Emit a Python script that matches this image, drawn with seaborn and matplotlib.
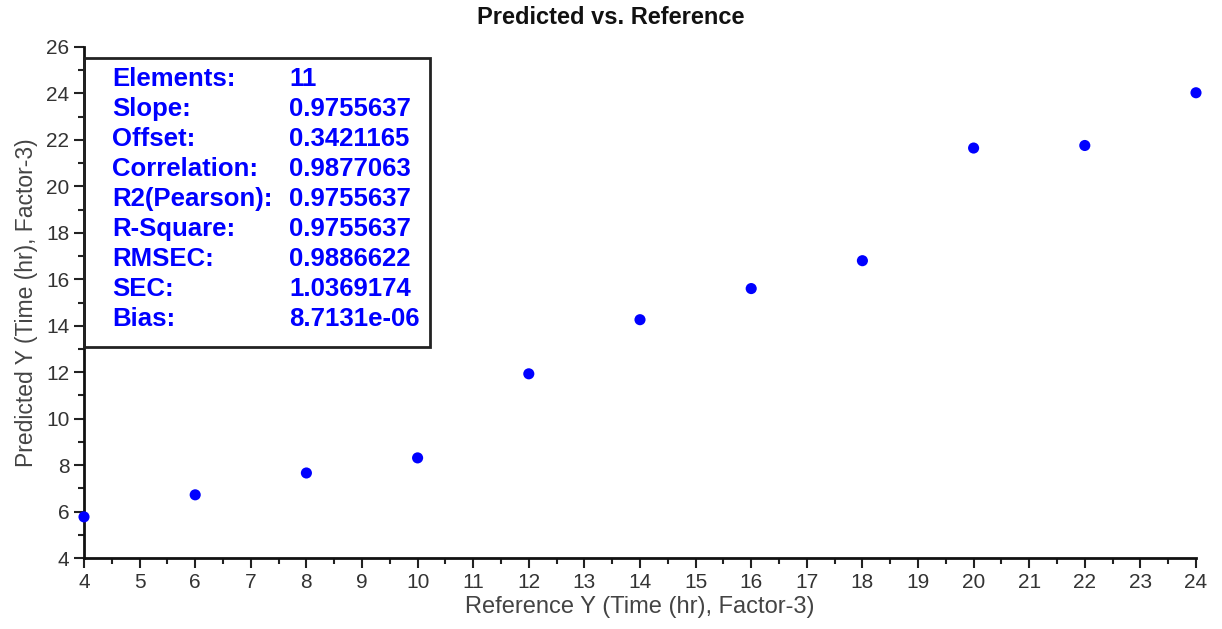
import matplotlib
matplotlib.use("Agg")
import matplotlib.pyplot as plt
import seaborn as sns
import pandas as pd
from matplotlib.patches import Rectangle
from matplotlib.ticker import MultipleLocator

reference = [4, 6, 8, 10, 12, 14, 16, 18, 20, 22, 24]
predicted = [5.77, 6.72, 7.66, 8.31, 11.93, 14.26, 15.6, 16.8, 21.65, 21.76, 24.03]

stat_labels = ["Elements:", "Slope:", "Offset:", "Correlation:", "R2(Pearson):",
               "R-Square:", "RMSEC:", "SEC:", "Bias:"]
stat_values = ["11", "0.9755637", "0.3421165", "0.9877063", "0.9755637",
               "0.9755637", "0.9886622", "1.0369174", "8.7131e-06"]

sns.set_theme(style="ticks")
plt.rcParams['font.family'] = ['Liberation Sans', 'DejaVu Sans']

df = pd.DataFrame({"ref": reference, "pred": predicted})

fig = plt.figure(figsize=(12.22, 6.29), dpi=100)
ax = fig.add_axes([84/1222, 1-558/629, 1112/1222, 511/629])
sns.scatterplot(data=df, x="ref", y="pred", ax=ax, color="#0000ff",
                s=64, edgecolor="none", clip_on=False, zorder=5)

ax.set_xlim(4, 24)
ax.set_ylim(4, 26)
ax.xaxis.set_major_locator(MultipleLocator(1))
ax.xaxis.set_minor_locator(MultipleLocator(0.5))
ax.yaxis.set_major_locator(MultipleLocator(2))
ax.yaxis.set_minor_locator(MultipleLocator(1))
ax.tick_params(which="major", length=7, width=1.5, color="#222222",
               labelsize=15, labelcolor="#333333", direction="out")
ax.tick_params(axis="x", which="major", pad=4)
ax.tick_params(which="minor", length=4, width=1.5, color="#222222", direction="out")
for s in ["top", "right"]:
    ax.spines[s].set_visible(False)
for s in ["left", "bottom"]:
    ax.spines[s].set_linewidth(2)
    ax.spines[s].set_color("#111111")

ax.set_xlabel("Reference Y (Time (hr), Factor-3)", fontsize=17, color="#444444", labelpad=3)
ax.set_ylabel("Predicted Y (Time (hr), Factor-3)", fontsize=16.5, color="#444444", labelpad=6)
fig.text(0.5, 1-18/629, "Predicted vs. Reference", ha="center", va="center",
         fontsize=17, fontweight="bold", color="#111111")

box_top = 0.978
box_bottom = 0.413
ax.add_patch(Rectangle((0, box_bottom), 0.311, box_top - box_bottom,
                       transform=ax.transAxes, fill=False, edgecolor="#222222",
                       linewidth=2, clip_on=False, zorder=6))
line_h = 30/511
for i, (lab, val) in enumerate(zip(stat_labels, stat_values)):
    yy = 1 - (79 - 47)/511 - i*line_h
    ax.text((112-84)/1112, yy, lab, transform=ax.transAxes, ha="left", va="center",
            fontsize=18.5, fontweight="bold", color="#0000ff")
    ax.text((289-84)/1112, yy, val, transform=ax.transAxes, ha="left", va="center",
            fontsize=18.5, fontweight="bold", color="#0000ff")

fig.savefig("out.png", dpi=100)
